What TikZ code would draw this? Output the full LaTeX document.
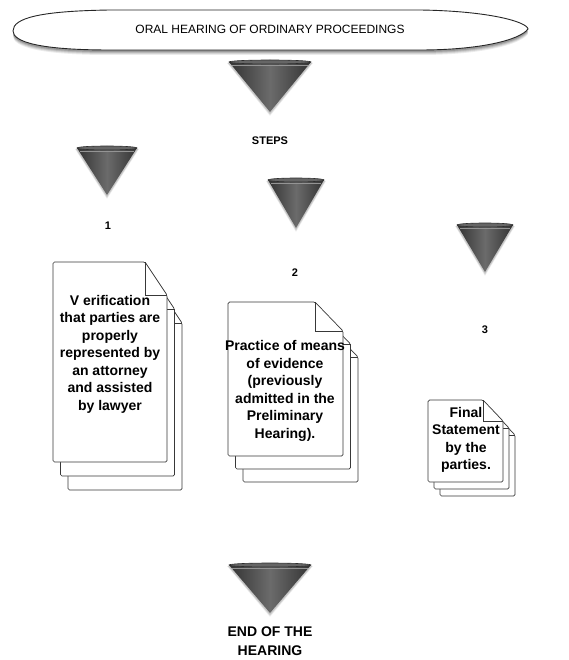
\documentclass[tikz,border=0pt]{standalone}
\usepackage{fontspec}
\setmainfont{Liberation Sans}
\newcommand\mycone[4]{% cx, top y, half width, height
  \foreach \g/\o in {4/0.06,3/0.08,2/0.10}{
    \fill[black,opacity=\o] (#1-#3-\g*0.5,#2+1) -- (#1+#3+\g*0.5,#2+1) -- (#1,#2+#4+\g) -- cycle;
  }
  \shade[left color=black!80,right color=black!80,middle color=black!58] (#1-#3,#2) -- (#1+#3,#2) -- (#1,#2+#4) -- cycle;
  \filldraw[fill=black!60,draw=black!82,line width=0.6pt] (#1,#2) ellipse[x radius=#3,y radius=2];
  \draw[black!42,line width=0.5pt] (#1-#3+3,#2+3) -- (#1+#3-3,#2+3);
}
\newcommand\docpage[6]{% x0,y0,x1,y1,fold w,fold h
  \filldraw[fill=white,draw=black!78,line width=0.7pt,rounded corners=1.5pt]
    (#1,#2) -- (#3-#5,#2) -- (#3,#2+#6) -- (#3,#4) -- (#1,#4) -- cycle;
  \draw[black!78,line width=0.6pt] (#3-#5,#2) -- (#3-#5,#2+#6) -- (#3,#2+#6);
}
\newcommand\docstack[8]{% x0,y0,x1,y1,fw,fh,dx,dy
  \docpage{#1+2*#7}{#2+2*#8}{#3+2*#7}{#4+2*#8}{#5}{#6}
  \docpage{#1+#7}{#2+#8}{#3+#7}{#4+#8}{#5}{#6}
  \docpage{#1}{#2}{#3}{#4}{#5}{#6}
}
\tikzset{
  bannertext/.style={font=\fontsize{12}{14}\selectfont},
  lbl/.style={font=\bfseries\fontsize{11}{13}\selectfont},
  doctext/.style={font=\bfseries\fontsize{14}{17.5}\selectfont,align=center},
  endtext/.style={font=\bfseries\fontsize{14}{19}\selectfont,align=center},
}
\begin{document}
\begin{tikzpicture}[x=1pt,y=-1pt]
\useasboundingbox (0,0) rectangle (568,660);
% banner shadow
\foreach \s/\o in {5/0.08,4/0.10,3/0.13,2/0.16}{
  \fill[black,opacity=\o] (13,31+\s) .. controls (13,18+\s) and (40,11+\s) .. (110,10+\s) -- (420,10+\s)
    .. controls (490,11+\s) and (527,22+\s) .. (528,29+\s) .. controls (520,40+\s) and (480,50+\s) .. (420,50+\s)
    -- (110,50+\s) .. controls (40,50+\s) and (13,42+\s) .. cycle;
}
\filldraw[fill=white,draw=black!85,line width=0.9pt] (13,31) .. controls (13,18) and (40,11) .. (110,10) -- (420,10)
    .. controls (490,11) and (527,22) .. (528,29) .. controls (520,40) and (480,50) .. (420,50)
    -- (110,50) .. controls (40,50) and (13,42) .. cycle;
\node[bannertext] (title) at (270,29) {ORAL HEARING OF ORDINARY PROCEEDINGS};
% cones
\mycone{270}{62}{41}{50}
\coordinate (cone0) at (270,62);
\node[lbl] (steps) at (270,141) {STEPS};
\mycone{107}{148}{30}{47}
\coordinate (cone1) at (107,148);
\node[lbl] (n1) at (108,226) {1};
\mycone{296}{180}{28}{48}
\coordinate (cone2) at (296,180);
\node[lbl] (n2) at (295,273) {2};
\mycone{485}{225}{28}{47}
\coordinate (cone3) at (485,225);
\node[lbl] (n3) at (485,330) {3};
% documents
\docstack{53}{262}{167}{462}{22}{33}{7.5}{14}
\node[doctext] (d1) at (110,354) {V erification\\that parties are\\properly\\represented by\\an attorney\\and assisted\\by lawyer};
\docstack{228}{302}{343}{456}{28}{29}{7.5}{13}
\node[doctext] (d2) at (285,391) {Practice of means\\of evidence\\(previously\\admitted in the\\Preliminary\\Hearing).};
\docstack{428}{400}{503}{482}{20}{21}{6}{7}
\node[doctext] (d3) at (466,440) {Final\\Statement\\by the\\parties.};
% end
\mycone{270}{565}{41}{48}
\coordinate (cone4) at (270,565);
\node[endtext] (end) at (270,641) {END OF THE\\HEARING};
\end{tikzpicture}
\end{document}
